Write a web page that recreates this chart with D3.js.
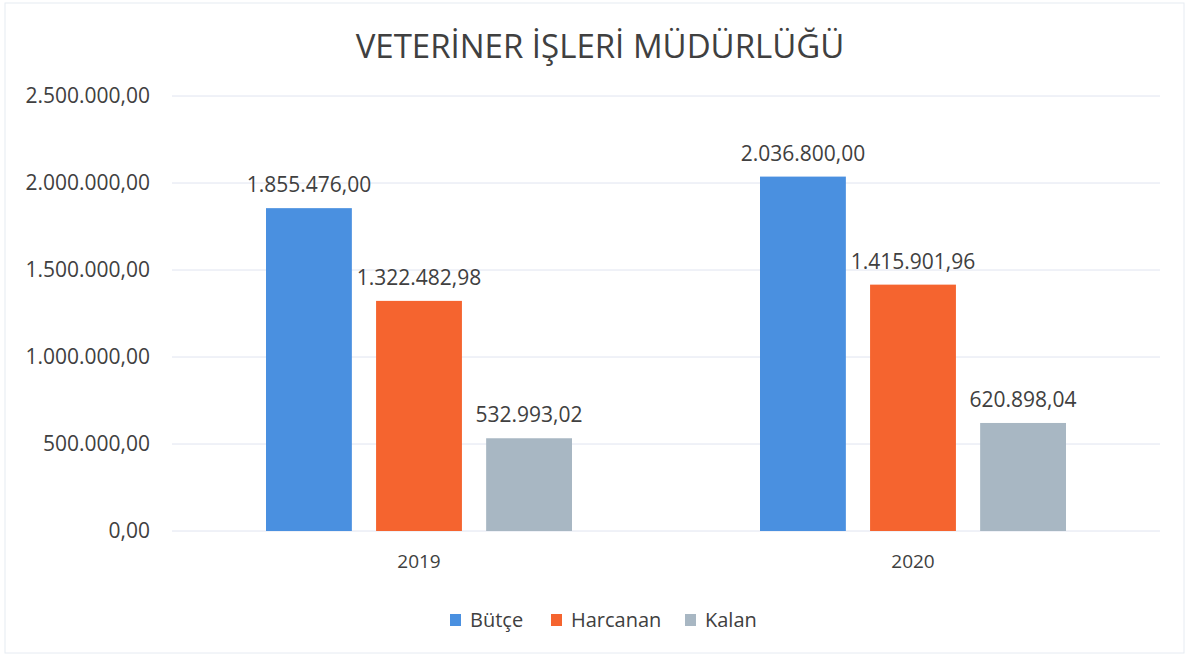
<!DOCTYPE html>
<html>
<head>
<meta charset="utf-8">
<script src="https://cdn.jsdelivr.net/npm/d3@7"></script>
<style>
  body { margin: 0; background: #fff; }
  text { font-family: "Open Sans", "Noto Sans", sans-serif; fill: #404040; }
</style>
</head>
<body>
<script>
//chart data
var years = ["2019", "2020"];
var seriesNames = ["Bütçe", "Harcanan", "Kalan"];
var butce = [1855476.00, 2036800.00];
var harcanan = [1322482.98, 1415901.96];
var kalan = [532993.02, 620898.04];
var yTicks = [0, 500000, 1000000, 1500000, 2000000, 2500000];
var colors = ["#4a90e0", "#f5642f", "#a8b7c3"];

//turkish number format
var tr = d3.formatLocale({decimal: ",", thousands: ".", grouping: [3], currency: ["", " TL"]});
var fmt = tr.format(",.2f");

drawChart();

function drawChart(){
    var width = 1189, height = 658;
    var plotLeft = 172, plotRight = 1160, plotTop = 96, plotBottom = 531;

    var svg = d3.select("body")
        .append("svg")
        .attr("width", width)
        .attr("height", height);

    //faint chart border
    svg.append("rect")
        .attr("x", 5).attr("y", 3)
        .attr("width", width - 10).attr("height", height - 8)
        .attr("fill", "none")
        .attr("stroke", "#e6ebf2");

    var x0 = d3.scaleBand()
        .domain(years)
        .range([plotLeft, plotRight]);

    var x1 = d3.scaleBand()
        .domain(seriesNames)
        .range([94, x0.bandwidth() - 94])
        .paddingInner(0.22);

    var y = d3.scaleLinear()
        .domain([0, 2500000])
        .range([plotBottom, plotTop]);

    //gridlines
    svg.selectAll(".grid")
        .data(yTicks)
        .enter()
        .append("line")
        .attr("class", "grid")
        .attr("x1", plotLeft).attr("x2", plotRight)
        .attr("y1", function(d){ return y(d); })
        .attr("y2", function(d){ return y(d); })
        .attr("stroke", "#e0e4f0")
        .attr("stroke-width", 1);

    //y axis labels
    var yAxis = d3.axisLeft(y)
        .tickValues(yTicks)
        .tickFormat(fmt)
        .tickSize(0)
        .tickPadding(22);
    var yg = svg.append("g")
        .attr("transform", "translate(" + plotLeft + ",0)")
        .call(yAxis);
    yg.select(".domain").remove();
    yg.attr("font-family", null).attr("font-size", null);
    yg.selectAll("text")
        .style("font-size", "21px")
        .attr("fill", "#404040");

    //x axis labels
    var xAxis = d3.axisBottom(x0).tickSize(0).tickPadding(24);
    var xg = svg.append("g")
        .attr("transform", "translate(0," + plotBottom + ")")
        .call(xAxis);
    xg.select(".domain").remove();
    xg.attr("font-family", null).attr("font-size", null);
    xg.selectAll("text")
        .style("font-size", "19px")
        .attr("fill", "#404040");

    //build rows
    var rows = years.map(function(yr, i){
        return {year: yr, values: [butce[i], harcanan[i], kalan[i]]};
    });

    var groups = svg.selectAll(".year")
        .data(rows)
        .enter()
        .append("g")
        .attr("class", "year")
        .attr("transform", function(d){ return "translate(" + x0(d.year) + ",0)"; });

    groups.selectAll("rect")
        .data(function(d){
            return d.values.map(function(v, j){ return {name: seriesNames[j], value: v, c: colors[j]}; });
        })
        .enter()
        .append("rect")
        .attr("x", function(d){ return x1(d.name); })
        .attr("width", x1.bandwidth())
        .attr("y", function(d){ return y(d.value); })
        .attr("height", function(d){ return y(0) - y(d.value); })
        .attr("fill", function(d){ return d.c; });

    groups.selectAll(".lbl")
        .data(function(d){
            return d.values.map(function(v, j){ return {name: seriesNames[j], value: v}; });
        })
        .enter()
        .append("text")
        .attr("class", "lbl")
        .attr("x", function(d){ return x1(d.name) + x1.bandwidth() / 2; })
        .attr("y", function(d){ return y(d.value) - 16; })
        .attr("text-anchor", "middle")
        .style("font-size", "21px")
        .text(function(d){ return fmt(d.value); });

    //title
    svg.append("text")
        .attr("x", 600)
        .attr("y", 58)
        .attr("text-anchor", "middle")
        .style("font-size", "33px")
        .text("VETERİNER İŞLERİ MÜDÜRLÜĞÜ");

    //legend
    var legendX = [450, 551, 685];
    var legend = svg.selectAll(".leg")
        .data(seriesNames)
        .enter()
        .append("g")
        .attr("class", "leg")
        .attr("transform", function(d, i){ return "translate(" + legendX[i] + ",614)"; });
    legend.append("rect")
        .attr("width", 11).attr("height", 12)
        .attr("fill", function(d, i){ return colors[i]; });
    legend.append("text")
        .attr("x", 20)
        .attr("y", 13)
        .style("font-size", "20px")
        .text(function(d){ return d; });
}
</script>
</body>
</html>
